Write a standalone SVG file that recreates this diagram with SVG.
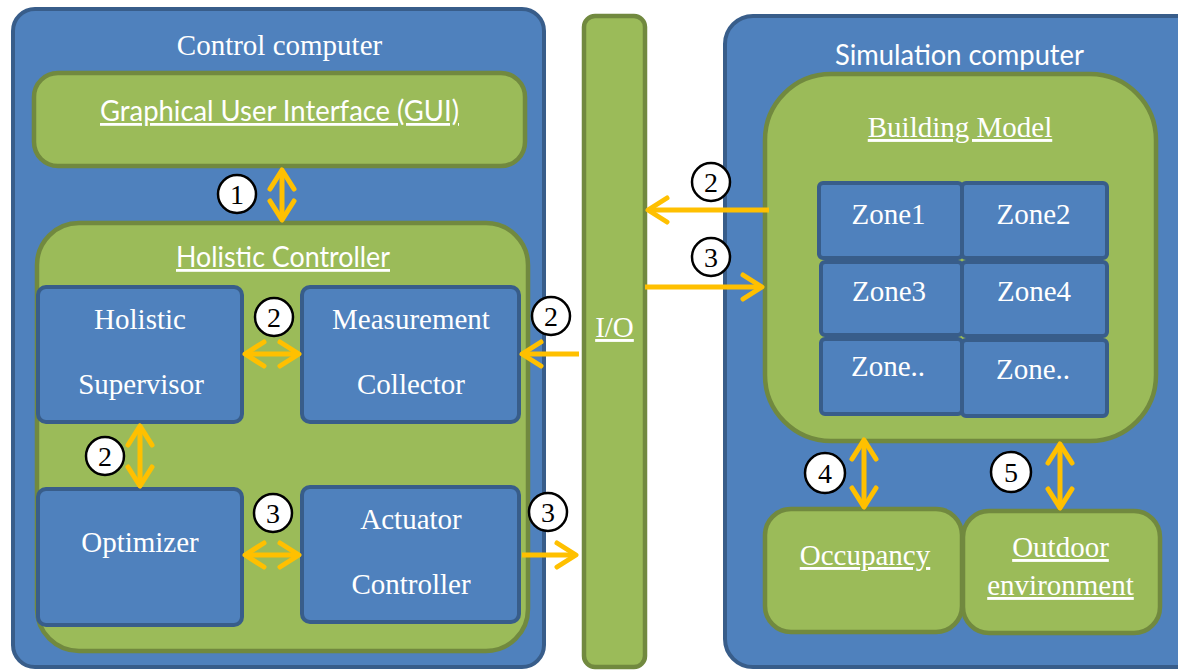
<svg xmlns="http://www.w3.org/2000/svg" width="1178" height="671" viewBox="0 0 1178 671">
<defs>
<style>
.blue{fill:#4f81bd;stroke:#385d8a;stroke-width:4}
.green{fill:#9bbb59;stroke:#71893f;stroke-width:4.5}
.serif{font-family:'Liberation Serif','Times New Roman',serif;font-size:29px;fill:#fff;text-anchor:middle}
.sans{font-family:Lato,'Open Sans',sans-serif;font-size:28px;fill:#fff;text-anchor:middle}
.ul{text-decoration:underline}
.arr{fill:none;stroke:#ffc000;stroke-width:5;marker-end:url(#ah)}
.dbl{marker-start:url(#ah)}
.num circle{fill:#fff;stroke:#000;stroke-width:2.5}
.num text{font-family:'Liberation Serif','Times New Roman',serif;font-size:28px;fill:#000;text-anchor:middle}
</style>
<marker id="ah" markerUnits="userSpaceOnUse" markerWidth="40" markerHeight="40" viewBox="-20 -20 40 40" refX="0" refY="0" orient="auto-start-reverse" overflow="visible">
<path d="M-19,-12 L0,0 L-19,12" fill="none" stroke="#ffc000" stroke-width="5" stroke-linecap="round" stroke-linejoin="round"/>
</marker>
</defs>
<rect width="1178" height="671" fill="#fff"/>

<g id="control-computer">
<rect class="blue" x="13" y="9" width="531" height="658" rx="22"/>
<text class="serif" x="279.5" y="55">Control computer</text>
</g>
<g id="gui">
<rect class="green" x="34" y="73" width="491" height="93" rx="24"/>
<text class="sans ul" x="279.5" y="121" textLength="359" lengthAdjust="spacingAndGlyphs">Graphical User Interface (GUI)</text>
</g>
<g id="holistic-controller">
<rect class="green" x="37" y="223" width="491" height="428" rx="42"/>
<text class="sans ul" x="283" y="267" textLength="214" lengthAdjust="spacingAndGlyphs">Holistic Controller</text>
</g>
<g id="holistic-supervisor">
<rect class="blue" x="38" y="287" width="204" height="135" rx="8"/>
<text class="serif" x="140" y="329">Holistic</text>
<text class="serif" x="141" y="394">Supervisor</text>
</g>
<g id="measurement-collector">
<rect class="blue" x="302" y="287" width="217" height="135" rx="8"/>
<text class="serif" x="411" y="329">Measurement</text>
<text class="serif" x="411" y="394">Collector</text>
</g>
<g id="optimizer">
<rect class="blue" x="38" y="489" width="204" height="136" rx="8"/>
<text class="serif" x="140" y="552">Optimizer</text>
</g>
<g id="actuator-controller">
<rect class="blue" x="302" y="487" width="217" height="135" rx="8"/>
<text class="serif" x="411" y="529">Actuator</text>
<text class="serif" x="411" y="594">Controller</text>
</g>
<g id="io">
<rect class="green" x="584" y="16" width="61" height="651" rx="11"/>
<text class="serif ul" x="614.5" y="337">I/O</text>
</g>
<g id="simulation-computer">
<rect class="blue" x="725" y="16" width="480" height="651" rx="28"/>
<text class="sans" x="959.5" y="65" textLength="249" lengthAdjust="spacingAndGlyphs">Simulation computer</text>
</g>
<g id="building-model">
<rect class="green" x="765" y="74" width="391" height="367" rx="66"/>
<text class="serif ul" x="960" y="137">Building Model</text>
</g>
<g id="zone1">
<rect class="blue" x="819" y="183" width="143" height="75" rx="4"/>
<text class="serif" x="888.5" y="224">Zone1</text>
</g>
<g id="zone2">
<rect class="blue" x="962" y="183" width="145" height="75" rx="4"/>
<text class="serif" x="1033.5" y="224">Zone2</text>
</g>
<g id="zone3">
<rect class="blue" x="821" y="262" width="141" height="73" rx="4"/>
<text class="serif" x="889" y="301">Zone3</text>
</g>
<g id="zone4">
<rect class="blue" x="962" y="262" width="145" height="74" rx="4"/>
<text class="serif" x="1034" y="301">Zone4</text>
</g>
<g id="zone5">
<rect class="blue" x="821" y="339" width="141" height="75" rx="4"/>
<text class="serif" x="888" y="376">Zone..</text>
</g>
<g id="zone6">
<rect class="blue" x="962" y="340" width="145" height="76" rx="4"/>
<text class="serif" x="1033" y="379">Zone..</text>
</g>
<g id="occupancy">
<rect class="green" x="765" y="509" width="197" height="123" rx="26"/>
<text class="serif ul" x="865" y="565">Occupancy</text>
</g>
<g id="outdoor-environment">
<rect class="green" x="963" y="511" width="197" height="122" rx="26"/>
<text class="serif ul" x="1060.5" y="557">Outdoor</text>
<text class="serif ul" x="1060.5" y="595">environment</text>
</g>

<g id="connectors">
<line class="arr dbl" x1="282" y1="170" x2="282" y2="220"/>
<line class="arr dbl" x1="245" y1="354" x2="299" y2="354"/>
<line class="arr dbl" x1="140" y1="426" x2="140" y2="486"/>
<line class="arr dbl" x1="245" y1="555" x2="299" y2="555"/>
<line class="arr" x1="579" y1="354" x2="522" y2="354"/>
<line class="arr" x1="522" y1="555" x2="576" y2="555"/>
<line class="arr" x1="769" y1="210" x2="648" y2="210"/>
<line class="arr" x1="645" y1="287" x2="762" y2="287"/>
<line class="arr dbl" x1="864" y1="440" x2="864" y2="507"/>
<line class="arr dbl" x1="1060" y1="444" x2="1060" y2="508"/>
</g>

<g id="labels">
<g class="num"><circle cx="237" cy="194" r="19"/><text x="237" y="204">1</text></g>
<g class="num"><circle cx="274" cy="317" r="19"/><text x="274" y="327">2</text></g>
<g class="num"><circle cx="105" cy="456" r="19"/><text x="105" y="466">2</text></g>
<g class="num"><circle cx="273" cy="513" r="19"/><text x="273" y="523">3</text></g>
<g class="num"><circle cx="551" cy="316" r="19"/><text x="551" y="326">2</text></g>
<g class="num"><circle cx="548" cy="512" r="19"/><text x="548" y="522">3</text></g>
<g class="num"><circle cx="711" cy="182" r="19"/><text x="711" y="192">2</text></g>
<g class="num"><circle cx="711" cy="257" r="19"/><text x="711" y="267">3</text></g>
<g class="num"><circle cx="825" cy="473" r="20"/><text x="825" y="483">4</text></g>
<g class="num"><circle cx="1011" cy="472" r="20"/><text x="1011" y="482">5</text></g>
</g>
</svg>
